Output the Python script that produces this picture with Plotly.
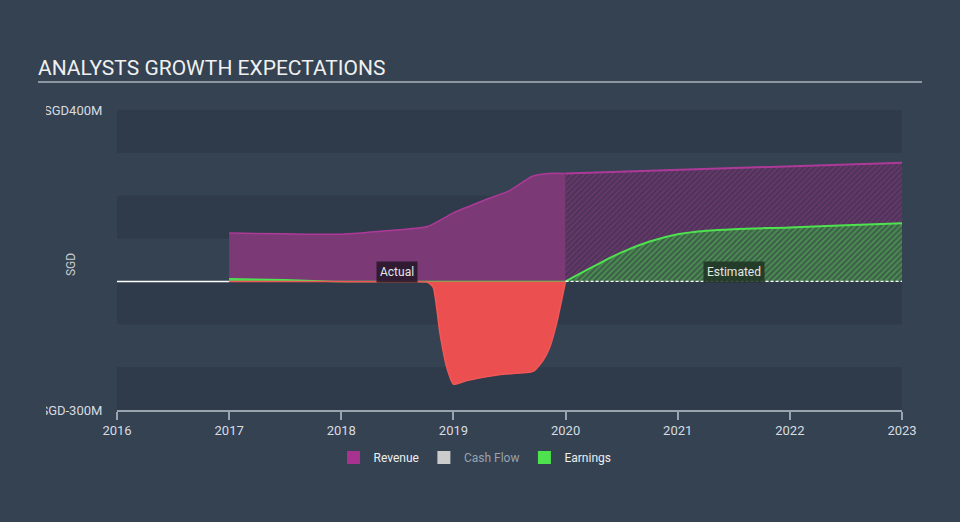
import plotly.graph_objects as go
import numpy as np

# ---------------- data (SGD millions) ----------------
rev_act_years = [2017.0, 2017.5, 2018.0, 2018.4, 2018.77, 2019.0, 2019.27, 2019.5, 2019.7, 2019.85, 2020.0]
rev_act_vals = [113, 111, 110, 118, 128, 160, 189, 212, 245, 252, 252]

earn_act_years = [2017.0, 2017.5, 2017.93, 2018.2, 2018.6, 2018.77, 2018.82, 2018.88, 2018.94,
                  2019.0, 2019.12, 2019.42, 2019.71, 2019.8, 2019.86, 2019.92, 2020.0]
earn_act_vals = [6, 4, 0, -1, -1, -2, -14, -121, -200, -240, -231, -217, -210, -184, -153, -98, 0]

est_years = [2020.0, 2020.25, 2020.5, 2020.75, 2021.0, 2021.25, 2021.5, 2022.0, 2022.5, 2023.0]
rev_est_vals = [252, 254, 256, 258, 260, 262, 264, 269, 273, 277]
earn_est_vals = [0, 35, 68, 93, 110, 118, 122, 126, 131, 136]

year_ticks = [2016, 2017, 2018, 2019, 2020, 2021, 2022, 2023]
y_ticks = [-300, 400]
y_tick_text = ["SGD-300M", "SGD400M"]
band_edges = [(300, 400), (100, 200), (-100, 0), (-300, -200)]

M = 1e6
BG = "#344252"
BAND = "#2f3b4a"
FONT = "Roboto"

ra_x = np.array(rev_act_years)
ra_y = np.array(rev_act_vals) * M
ea_x = np.array(earn_act_years)
ea_y = np.array(earn_act_vals) * M
ex = np.array(est_years)
re_y = np.array(rev_est_vals) * M
ee_y = np.array(earn_est_vals) * M

fig = go.Figure()

# revenue actual
fig.add_trace(go.Scatter(x=ra_x, y=ra_y, mode="lines", fill="tozeroy",
                         fillcolor="#7b3a75", line=dict(color="#ad3a98", width=1.5, shape="spline", smoothing=0.5),
                         showlegend=False, hoverinfo="skip"))
# earnings actual positive (green) and negative (red)
fig.add_trace(go.Scatter(x=ea_x, y=np.maximum(ea_y, 0), mode="lines", fill="tozeroy",
                         fillcolor="#4ccf4c", line=dict(color="#4fe24f", width=1.5),
                         showlegend=False, hoverinfo="skip"))
fig.add_trace(go.Scatter(x=ea_x, y=np.minimum(ea_y, 0), mode="lines", fill="tozeroy",
                         fillcolor="#eb4f50", line=dict(color="#f25757", width=1.5, shape="spline", smoothing=0.5),
                         showlegend=False, hoverinfo="skip"))

# estimated: earnings (green hatch) then revenue (purple hatch above earnings)
fig.add_trace(go.Scatter(x=ex, y=ee_y, mode="lines", fill="tozeroy",
                         fillcolor="rgba(0,0,0,0)",
                         fillpattern=dict(shape="/", size=4, solidity=0.35,
                                          fgcolor="#5fcf5f", bgcolor="#3e6249"),
                         line=dict(color="#4fe24f", width=2, shape="spline", smoothing=1.0),
                         showlegend=False, hoverinfo="skip"))
fig.add_trace(go.Scatter(x=ex, y=re_y, mode="lines", fill="tonexty",
                         fillcolor="rgba(0,0,0,0)",
                         fillpattern=dict(shape="/", size=4, solidity=0.35,
                                          fgcolor="#8a3d88", bgcolor="#4f3459"),
                         line=dict(color="#ad3a98", width=2),
                         showlegend=False, hoverinfo="skip"))

# zero lines
fig.add_trace(go.Scatter(x=[year_ticks[0], rev_act_years[0]], y=[0, 0], mode="lines",
                         line=dict(color="#ffffff", width=1.5), showlegend=False, hoverinfo="skip"))
fig.add_trace(go.Scatter(x=[est_years[0], est_years[-1]], y=[0, 0], mode="lines",
                         line=dict(color="#ffffff", width=1.2, dash="3px,2px"),
                         showlegend=False, hoverinfo="skip"))

# legend entries
fig.add_trace(go.Scatter(x=[None], y=[None], mode="markers", name="Revenue",
                         marker=dict(symbol="square", size=13, color="#a8328f")))
fig.add_trace(go.Scatter(x=[None], y=[None], mode="markers",
                         name="<span style='color:#9aa3ad'>Cash Flow</span>",
                         marker=dict(symbol="square", size=13, color="#cccccc")))
fig.add_trace(go.Scatter(x=[None], y=[None], mode="markers", name="Earnings",
                         marker=dict(symbol="square", size=13, color="#4fe24f")))

shapes = []
for lo, hi in band_edges:
    shapes.append(dict(type="rect", xref="paper", yref="y", x0=0, x1=1, y0=lo * M, y1=hi * M,
                       fillcolor=BAND, line=dict(width=0), layer="below"))
# title underline
shapes.append(dict(type="line", xref="paper", yref="paper", x0=(38 - 117) / 785, x1=(922 - 117) / 785,
                   y0=1 + 28 / 300, y1=1 + 28 / 300, line=dict(color="#aab4be", width=1.5)))
# clip cover for y tick labels
shapes.append(dict(type="rect", xref="paper", yref="paper", x0=-0.16, x1=(46 - 117) / 785,
                   y0=-0.1, y1=1.05, fillcolor=BG, line=dict(width=0), layer="above"))

annotations = [
    dict(x=2018.5, y=23 * M, xref="x", yref="y", text="Actual", showarrow=False,
         font=dict(family=FONT, size=12, color="#e6e6e6"), bgcolor="rgba(35,22,40,0.85)",
         borderpad=3),
    dict(x=2021.5, y=21 * M, xref="x", yref="y", text="Estimated", showarrow=False,
         font=dict(family=FONT, size=12, color="#e6e6e6"), bgcolor="rgba(30,50,35,0.85)",
         borderpad=3),
    dict(x=(62 - 117) / 785, y=(410 - 265) / 300, xref="paper", yref="paper", text="SGD",
         showarrow=False, textangle=-90, font=dict(family=FONT, size=12, color="#c8cdd2")),
]

fig.update_layout(
    width=960, height=522,
    margin=dict(l=117, r=58, t=110, b=112, autoexpand=False),
    paper_bgcolor=BG, plot_bgcolor=BG,
    font=dict(family=FONT, color="#d0d4d8"),
    title=dict(text="ANALYSTS GROWTH EXPECTATIONS", x=38 / 960, xanchor="left",
               y=1 - 68 / 522, yanchor="middle", xref="container", yref="container",
               font=dict(family=FONT, size=21, color="#f0f0f0")),
    xaxis=dict(range=[year_ticks[0], year_ticks[-1]], tickvals=year_ticks,
               ticktext=[str(t) for t in year_ticks], showgrid=False, zeroline=False,
               showline=True, linecolor="#9aa4ae", linewidth=1.5,
               ticks="outside", ticklen=8, tickcolor="#9aa4ae", tickwidth=1.5,
               tickfont=dict(family=FONT, size=13, color="#d8dce0"), fixedrange=True),
    yaxis=dict(range=[-300 * M, 400 * M], tickvals=[v * M for v in y_ticks], ticktext=y_tick_text,
               showgrid=False, zeroline=False, showline=False,
               ticks="outside", ticklen=11, tickcolor="rgba(0,0,0,0)",
               tickfont=dict(family=FONT, size=13, color="#d8dce0"), fixedrange=True),
    legend=dict(orientation="h", x=(475 - 117) / 785, xanchor="center", y=-0.11, yanchor="top",
                traceorder="normal",
                font=dict(family=FONT, size=12, color="#eeeeee"), bgcolor="rgba(0,0,0,0)"),
    shapes=shapes,
    annotations=annotations,
    showlegend=True,
)

fig.write_html("out.html")
